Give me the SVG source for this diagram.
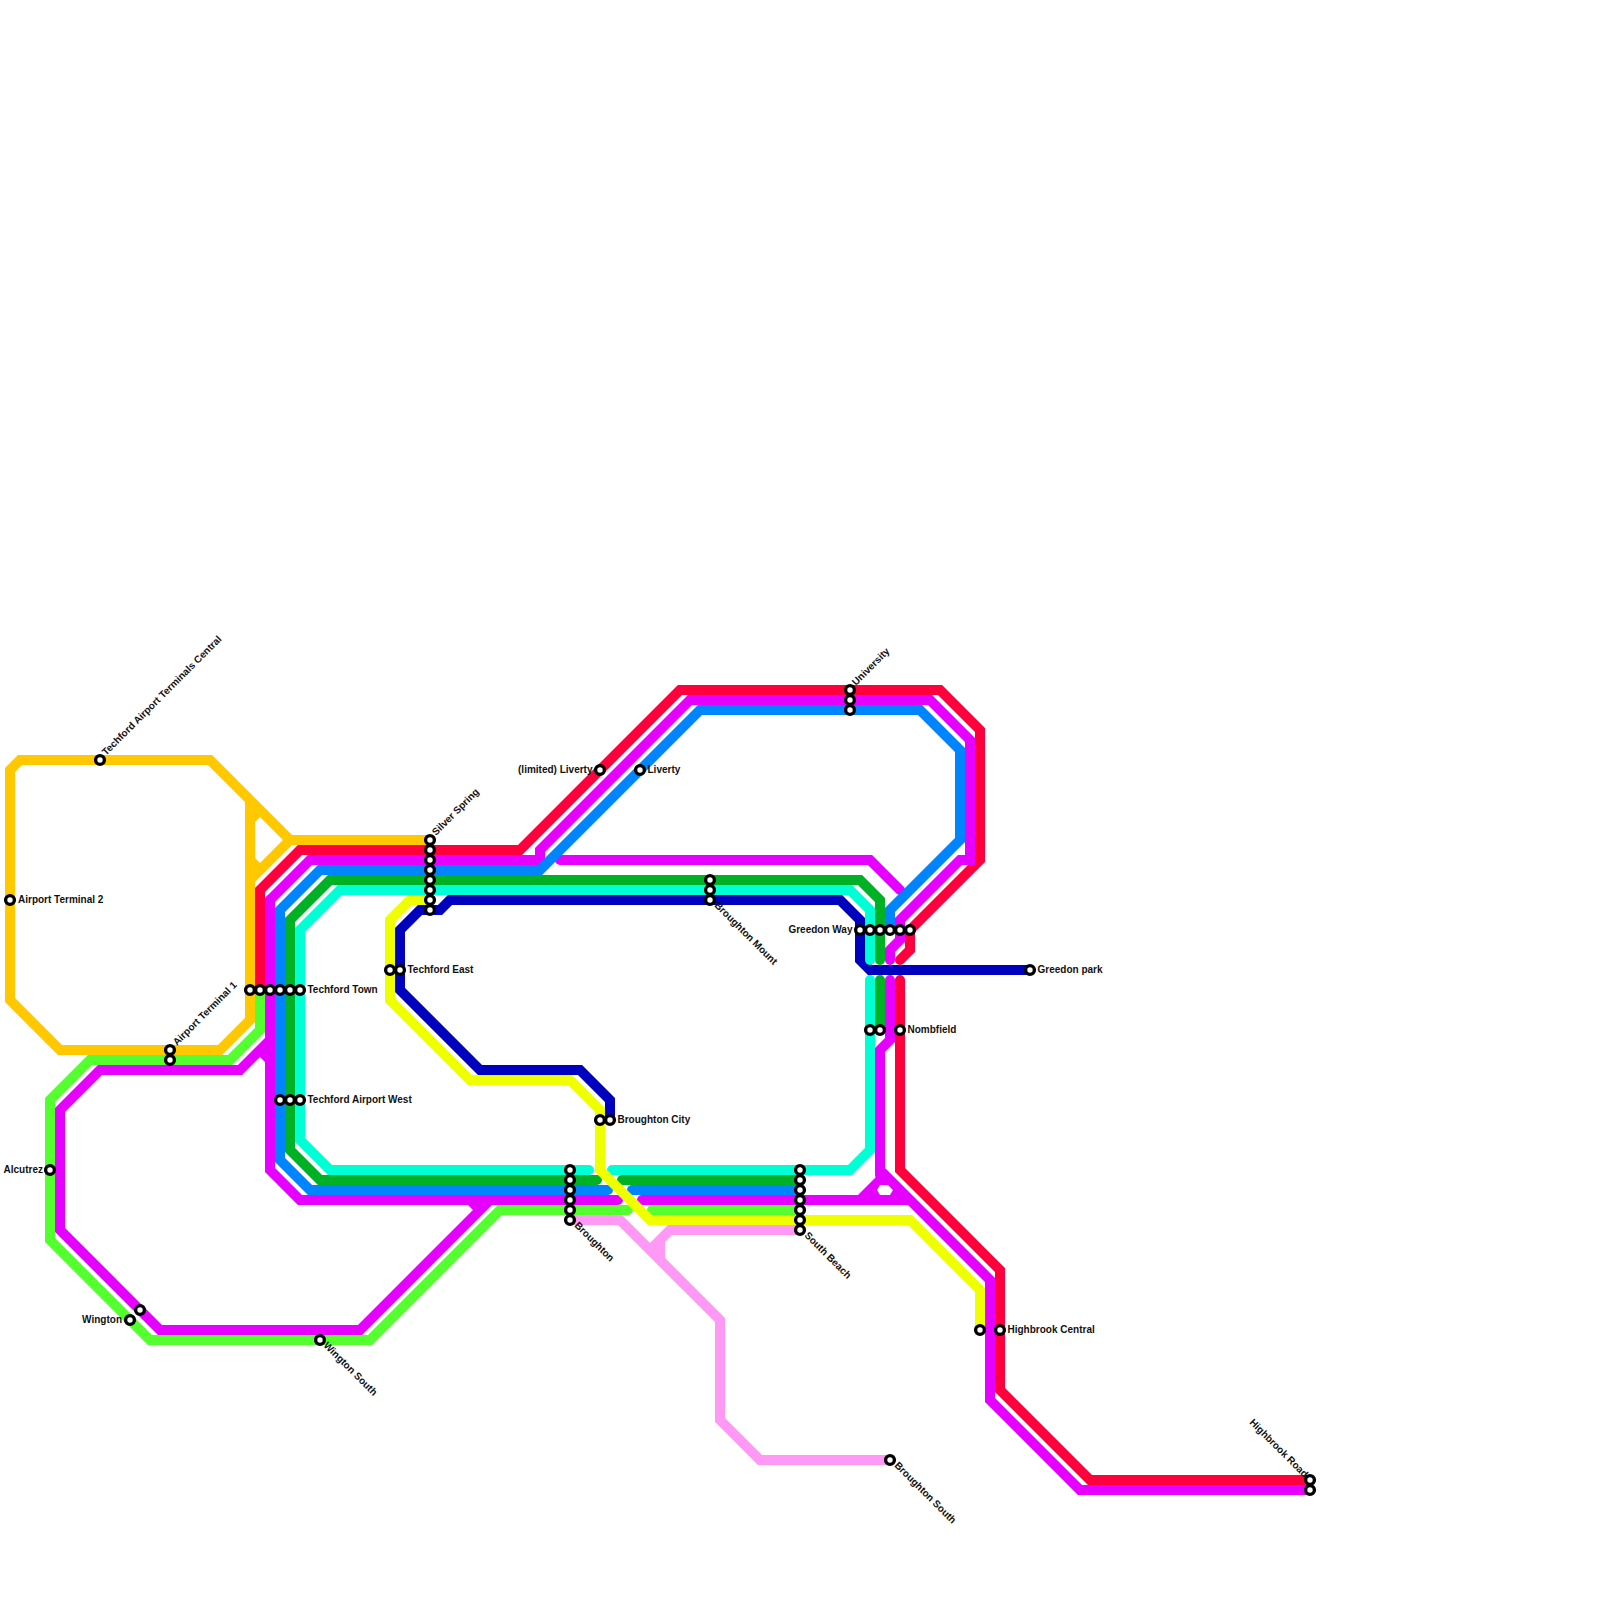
<svg xmlns="http://www.w3.org/2000/svg" width="1600" height="1600" viewBox="0 0 1600 1600">
<style>
.l{fill:none;stroke-width:10;stroke-linejoin:miter;stroke-linecap:round}
.b{stroke-linecap:butt}
.or{stroke:#ffc800}.re{stroke:#ff003c}.ma{stroke:#e600ff}.bl{stroke:#0085ff}.gr{stroke:#00b025}.cy{stroke:#00ffd5}.na{stroke:#0000bf}.ye{stroke:#f0ff00}.lg{stroke:#55ff2f}.pi{stroke:#ff99f5}
circle{fill:#fff;stroke:#000;stroke-width:3.4}
text{font-family:"Liberation Sans",Arial,sans-serif;font-size:10px;font-weight:bold;fill:#111}
.e{text-anchor:end}
</style>
<rect width="1600" height="1600" fill="#fff"/>
<g id="connectors">
<path class="l pi" d="M570 1220H620L720 1320V1420L760 1460H890"/>
<path class="l b pi" d="M800 1230H670L650 1250M660 1240V1260"/>
<path class="l b or" d="M430 840H290L210 760H20L10 770V1000L60 1050H220L250 1020V800"/>
<path class="l b or" d="M250 880L290 840M260 810L250 820M250 860L260 870"/>
<path class="l lg" d="M260 990V1030L230 1060H90L50 1100V1240L150 1340H370L500 1210H628"/>
<path class="l lg" d="M652 1210H800"/>
<path class="l re" d="M260 990V890L300 850H520L680 690H940L980 730V860L910 930V950L900 960"/>
<path class="l re" d="M900 980V1170L1000 1270V1390L1090 1480H1310"/>
<path class="l na" d="M1030 970H870L860 960V920L840 900H450L440 910H420L400 930V990L480 1070H580L610 1100V1120"/>
<path class="l ma" d="M270 900V1170L300 1200H618"/>
<path class="l ma" d="M270 900L310 860H540V850L690 700H930L970 740V860H960L900 920V940L890 950V960"/>
<path class="l b ma" d="M270 1040L240 1070H100L60 1110V1230L160 1330H360L490 1200"/>
<path class="l b ma" d="M260 1050L270 1060M480 1210L470 1200"/>
<path class="l ma" d="M560 860H870L900 890"/>
<path class="l ma" d="M642 1200H860"/>
<path class="l ma" d="M890 980V1040L880 1050V1175"/>
<path class="l b ma" d="M880 1170L990 1280V1400L1080 1490H1310"/>
<path d="M858 1195L880 1173L885 1173L910 1195V1205H858ZM880 1185L877 1190L880 1195H890L893 1190L890 1185Z" fill="#e600ff" fill-rule="evenodd"/>
<path class="l bl" d="M608 1190H310L280 1160V910L320 870H540L700 710H920L960 750V840L890 910V930"/>
<path class="l bl" d="M632 1190H800"/>
<path class="l gr" d="M597 1180H320L290 1150V920L330 880H860L880 900V960"/>
<path class="l gr" d="M880 980V1030"/>
<path class="l gr" d="M622 1180H800"/>
<path class="l cy" d="M589 1170H330L300 1140V930L340 890H850L870 910V960"/>
<path class="l cy" d="M870 980V1150L850 1170H612"/>
<path class="l ye" d="M430 900H410L390 920V1000L470 1080H570L600 1110V1170L650 1220H910L980 1290V1330"/>
</g>
<g id="techford-airport-terminals-central"><circle cx="100" cy="760" r="4.4"/><text transform="translate(106 756) rotate(-45)">Techford Airport Terminals Central</text></g>
<g id="airport-terminal-2"><circle cx="10" cy="900" r="4.4"/><text x="18" y="903">Airport Terminal 2</text></g>
<g id="airport-terminal-1"><circle cx="170" cy="1050" r="4.4"/><circle cx="170" cy="1060" r="4.4"/><text transform="translate(177 1046) rotate(-45)">Airport Terminal 1</text></g>
<g id="alcutrez"><circle cx="50" cy="1170" r="4.4"/><text class="e" x="43" y="1173">Alcutrez</text></g>
<g id="wington"><circle cx="130" cy="1320" r="4.4"/><circle cx="140" cy="1310" r="4.4"/><text class="e" x="122" y="1323">Wington</text></g>
<g id="wington-south"><circle cx="320" cy="1340" r="4.4"/><text transform="translate(323 1346) rotate(45)">Wington South</text></g>
<g id="techford-town"><circle cx="250" cy="990" r="4.4"/><circle cx="260" cy="990" r="4.4"/><circle cx="270" cy="990" r="4.4"/><circle cx="280" cy="990" r="4.4"/><circle cx="290" cy="990" r="4.4"/><circle cx="300" cy="990" r="4.4"/><text x="307.5" y="993">Techford Town</text></g>
<g id="techford-airport-west"><circle cx="280" cy="1100" r="4.4"/><circle cx="290" cy="1100" r="4.4"/><circle cx="300" cy="1100" r="4.4"/><text x="307.5" y="1103">Techford Airport West</text></g>
<g id="techford-east"><circle cx="390" cy="970" r="4.4"/><circle cx="400" cy="970" r="4.4"/><text x="407.5" y="973">Techford East</text></g>
<g id="silver-spring"><circle cx="430" cy="840" r="4.4"/><circle cx="430" cy="850" r="4.4"/><circle cx="430" cy="860" r="4.4"/><circle cx="430" cy="870" r="4.4"/><circle cx="430" cy="880" r="4.4"/><circle cx="430" cy="890" r="4.4"/><circle cx="430" cy="900" r="4.4"/><circle cx="430" cy="910" r="4.4"/><text transform="translate(436 836) rotate(-45)">Silver Spring</text></g>
<g id="broughton"><circle cx="570" cy="1170" r="4.4"/><circle cx="570" cy="1180" r="4.4"/><circle cx="570" cy="1190" r="4.4"/><circle cx="570" cy="1200" r="4.4"/><circle cx="570" cy="1210" r="4.4"/><circle cx="570" cy="1220" r="4.4"/><text transform="translate(574 1226) rotate(45)">Broughton</text></g>
<g id="south-beach"><circle cx="800" cy="1170" r="4.4"/><circle cx="800" cy="1180" r="4.4"/><circle cx="800" cy="1190" r="4.4"/><circle cx="800" cy="1200" r="4.4"/><circle cx="800" cy="1210" r="4.4"/><circle cx="800" cy="1220" r="4.4"/><circle cx="800" cy="1230" r="4.4"/><text transform="translate(804 1236) rotate(45)">South Beach</text></g>
<g id="broughton-city"><circle cx="600" cy="1120" r="4.4"/><circle cx="610" cy="1120" r="4.4"/><text x="617.5" y="1123">Broughton City</text></g>
<g id="limited-liberty"><circle cx="600" cy="770" r="4.4"/><text class="e" x="592.5" y="773">(limited) Liverty</text></g>
<g id="liberty"><circle cx="640" cy="770" r="4.4"/><text x="647.5" y="773">Liverty</text></g>
<g id="broughton-mount"><circle cx="710" cy="880" r="4.4"/><circle cx="710" cy="890" r="4.4"/><circle cx="710" cy="900" r="4.4"/><text transform="translate(714 906) rotate(45)">Broughton Mount</text></g>
<g id="university"><circle cx="850" cy="690" r="4.4"/><circle cx="850" cy="700" r="4.4"/><circle cx="850" cy="710" r="4.4"/><text transform="translate(856 686) rotate(-45)">University</text></g>
<g id="greedon-way"><circle cx="860" cy="930" r="4.4"/><circle cx="870" cy="930" r="4.4"/><circle cx="880" cy="930" r="4.4"/><circle cx="890" cy="930" r="4.4"/><circle cx="900" cy="930" r="4.4"/><circle cx="910" cy="930" r="4.4"/><text class="e" x="852.5" y="933">Greedon Way</text></g>
<g id="greedon-park"><circle cx="1030" cy="970" r="4.4"/><text x="1037.5" y="973">Greedon park</text></g>
<g id="nombfield"><circle cx="870" cy="1030" r="4.4"/><circle cx="880" cy="1030" r="4.4"/><circle cx="900" cy="1030" r="4.4"/><text x="907.5" y="1033">Nombfield</text></g>
<g id="highbrook-central"><circle cx="980" cy="1330" r="4.4"/><circle cx="1000" cy="1330" r="4.4"/><text x="1007.5" y="1333">Highbrook Central</text></g>
<g id="broughton-south"><circle cx="890" cy="1460" r="4.4"/><text transform="translate(894 1466) rotate(45)">Broughton South</text></g>
<g id="highbrook-road"><circle cx="1310" cy="1480" r="4.4"/><circle cx="1310" cy="1490" r="4.4"/><text class="e" transform="translate(1304 1478) rotate(45)">Highbrook Road</text></g>
</svg>
